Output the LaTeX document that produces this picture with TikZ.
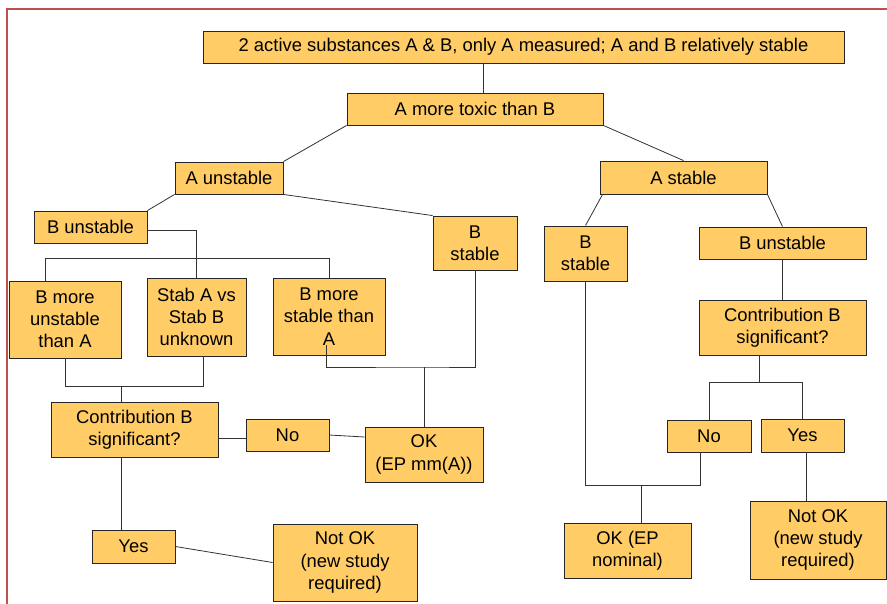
\documentclass[tikz,border=0pt]{standalone}
\usepackage{fontspec}
\setmainfont{Liberation Sans}
\definecolor{boxfill}{HTML}{FFCC66}
\definecolor{frame}{HTML}{C0504D}
\begin{document}
\begin{tikzpicture}[x=1pt,y=-1pt,
  box/.style={draw=black!85, line width=0.9pt, fill=boxfill, inner sep=0pt, align=center,
    font=\fontsize{18.4}{22.2}\selectfont},
  conn/.style={draw=black!80, line width=0.8pt}]
\useasboundingbox (0,0) rectangle (887,603);
\draw[frame, line width=2pt] (7,604) -- (7,9) -- (888,9);

\node[box, minimum width=641, minimum height=32] (top) at (523.5,47) {2 active substances A \& B, only A measured; A and B relatively stable};
\node[box, minimum width=256, minimum height=32] (toxic) at (475,109) {A more toxic than B};
\node[box, minimum width=108, minimum height=32] (aun) at (229,178) {A unstable};
\node[box, minimum width=113, minimum height=32] (bunL) at (90.5,227) {B unstable};
\node[box, minimum width=84, minimum height=54] (bstM) at (475,243) {B\\stable};
\node[box, minimum width=167, minimum height=33] (astab) at (683.5,177.5) {A stable};
\node[box, minimum width=83, minimum height=55] (bstR) at (585.5,253.5) {B\\stable};
\node[box, minimum width=167, minimum height=32] (bunR) at (782.5,243) {B unstable};
\node[box, minimum width=167, minimum height=55] (contR) at (782.5,327.5) {Contribution B\\significant?};
\node[box, minimum width=84, minimum height=32] (noR) at (709,436) {No};
\node[box, minimum width=83, minimum height=33] (yesR) at (802.5,435.5) {Yes};
\node[box, minimum width=127, minimum height=55] (okN) at (627.5,550.5) {OK (EP\\nominal)};
\node[box, minimum width=136, minimum height=78] (notR) at (818,540) {Not OK\\(new study\\required)};
\node[box, minimum width=112, minimum height=77] (bmu) at (65,319.5) {B more\\unstable\\than A};
\node[box, minimum width=99, minimum height=78] (stab) at (196.5,317) {Stab A vs\\Stab B\\unknown};
\node[box, minimum width=112, minimum height=77] (bms) at (329,316.5) {B more\\stable than\\A};
\node[box, minimum width=167, minimum height=55] (contL) at (134.5,429.5) {Contribution B\\significant?};
\node[box, minimum width=83, minimum height=32] (noL) at (287.5,435) {No};
\node[box, minimum width=118, minimum height=55] (okA) at (424,454.5) {OK\\(EP mm(A))};
\node[box, minimum width=83, minimum height=33] (yesL) at (133.5,546.5) {Yes};
\node[box, minimum width=144, minimum height=77] (notL) at (345,562.5) {Not OK\\(new study\\required)};

% connectors
\draw[conn] ([xshift=8]toxic.north) -- ([xshift=8]toxic.north |- top.south);
\draw[conn] (toxic.south west) -- (aun.north east);
\draw[conn] (toxic.south east) -- (astab.north);
\draw[conn] (aun.south west) -- (bunL.north east);
\draw[conn] (aun.south east) -- (bstM.north west);
\draw[conn] ([xshift=3]astab.south west) -- (bstR.north);
\draw[conn] (astab.south east) -- (bunR.north);
\draw[conn] ([yshift=-3]bunL.east) -| (stab.north);
\draw[conn] ([xshift=-20]bmu.north) -- ++(0,-22) -| (bms.north);
\draw[conn] (bmu.south) -- ++(0,28) -| ([xshift=7]stab.south);
\draw[conn] ([xshift=-13.5]contL.north) -- ++(0,-16);
\coordinate (jM) at (424,367);
\draw[conn] ([xshift=-3,yshift=10]bms.south) |- (jM) -| (bstM.south);
\draw[conn] (jM) -- (okA.north);
\draw[conn] ([yshift=-8.5]contL.east) -- ([yshift=-3]noL.west);
\draw[conn] (noL.east) -- ([yshift=17.5]okA.west);
\draw[conn] ([xshift=-13]contL.south) -- ([xshift=-13]contL.south |- yesL.north);
\draw[conn] (yesL.east) -- (notL.west);
\draw[conn] (bunR.south) -- (contR.north);
\draw[conn] ([xshift=-23.5]contR.south) -- ++(0,28);
\draw[conn] (noR.north) -- ++(0,-37) -| (yesR.north);
\draw[conn] (bstR.south) -- ++(0,204) -| ([xshift=-9]noR.south);
\draw[conn] ([xshift=13.5]okN.north) -- ++(0,-38);
\draw[conn] ([xshift=3.5]yesR.south) -- ([xshift=3.5]yesR.south |- notR.north);
\end{tikzpicture}
\end{document}
